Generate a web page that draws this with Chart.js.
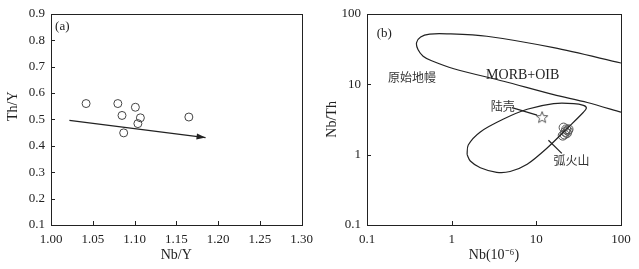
<!DOCTYPE html>
<html lang="zh-CN">
<head>
  <meta charset="UTF-8" />
  <title>Th/Y - Nb/Y ; Nb/Th - Nb</title>
  <style>
    body { margin: 0; padding: 0; background: #fff; }
    #wrap { position: relative; width: 639px; height: 269px; }
    canvas { position: absolute; top: 0; }
    #chartA { left: 0; }
    #chartB { left: 320px; }
  </style>
</head>
<body>
  <div id="wrap">
    <canvas id="chartA" width="320" height="269"></canvas>
    <canvas id="chartB" width="319" height="269"></canvas>
  </div>

  <script src="https://cdn.jsdelivr.net/npm/chart.js"></script>
  <script>
    // (a) Th/Y vs Nb/Y
    const nbY = [1.042, 1.080, 1.085, 1.101, 1.107, 1.104, 1.087, 1.165];
    const thY = [0.560, 0.560, 0.515, 0.546, 0.506, 0.484, 0.449, 0.509];
    const arrowX = [1.022, 1.185];
    const arrowY = [0.496, 0.431];
    const ticksA_x = [1.00, 1.05, 1.10, 1.15, 1.20, 1.25, 1.30];
    const ticksA_y = [0.1, 0.2, 0.3, 0.4, 0.5, 0.6, 0.7, 0.8, 0.9];

    // (b) Nb/Th vs Nb
    const nb = [20.5, 21.5, 22, 23, 23.5, 22.5, 21, 24];
    const nbTh = [1.86, 1.93, 2.10, 2.02, 2.19, 2.28, 2.42, 2.29];
    const crustNb = [11.7];
    const crustNbTh = [3.4];
    const morbX = [100, 16, 2.6, 0.88, 0.55, 0.43, 0.385, 0.40, 0.46, 0.58, 1.06, 4.1, 16, 40, 100];
    const morbY = [20, 33, 48, 52, 51.5, 47, 39, 31, 25, 21.5, 16.6, 11.0, 7.1, 5.5, 4.0];
    const arcX = [1.52, 1.57, 2.18, 4.1, 7.8, 16, 27.6, 36, 39, 36, 23, 13.4, 7.8, 4.9, 3.4, 2.18, 1.66, 1.52];
    const arcY = [1.0, 1.37, 2.1, 3.2, 4.4, 5.3, 5.3, 5.0, 4.6, 4.0, 2.34, 1.24, 0.73, 0.575, 0.56, 0.65, 0.81, 1.0];
    const crustLeaderX = [5.15, 10.2];
    const crustLeaderY = [4.64, 3.63];
    const arcLeaderX = [13.9, 20];
    const arcLeaderY = [1.6, 1.04];
    const ticksB = [0.1, 1, 10, 100];

    const serif = "'Liberation Serif', 'Times New Roman', serif";
    const cjk = "'Noto Sans CJK SC', sans-serif";
    const ink = '#222';

    Chart.defaults.font.family = serif;
    Chart.defaults.font.size = 13;
    Chart.defaults.color = ink;

    const pts = (xs, ys) => xs.map((x, i) => ({ x: x, y: ys[i] }));

    // star marker as an image
    function makeStar() {
      const c = document.createElement('canvas');
      c.width = 14; c.height = 14;
      const g = c.getContext('2d');
      g.strokeStyle = '#555';
      g.lineWidth = 1;
      g.beginPath();
      for (let i = 0; i < 10; i++) {
        const r = i % 2 === 0 ? 6 : 2.6;
        const a = -Math.PI / 2 + i * Math.PI / 5;
        const px = 7 + r * Math.cos(a), py = 7.5 + r * Math.sin(a);
        if (i === 0) g.moveTo(px, py); else g.lineTo(px, py);
      }
      g.closePath();
      g.stroke();
      return c;
    }

    // box around the plot + short inward ticks + labels
    const frame = {
      id: 'frame',
      afterDraw(chart, args, opts) {
        const { ctx, chartArea: a, scales } = chart;
        ctx.save();
        ctx.strokeStyle = ink;
        ctx.lineWidth = 1;
        ctx.strokeRect(Math.round(a.left) + 0.5, Math.round(a.top) + 0.5,
          Math.round(a.right - a.left), Math.round(a.bottom - a.top));
        ctx.beginPath();
        scales.x.ticks.forEach(t => {
          const px = Math.round(scales.x.getPixelForValue(t.value)) + 0.5;
          if (px - a.left < 2 || a.right - px < 2) return;
          ctx.moveTo(px, a.bottom);
          ctx.lineTo(px, a.bottom - 4);
        });
        scales.y.ticks.forEach(t => {
          const py = Math.round(scales.y.getPixelForValue(t.value)) + 0.5;
          if (py - a.top < 2 || a.bottom - py < 2) return;
          ctx.moveTo(a.left, py);
          ctx.lineTo(a.left + 4, py);
        });
        ctx.stroke();

        (opts.labels || []).forEach(l => {
          ctx.font = l.font;
          ctx.fillStyle = l.color || ink;
          ctx.textAlign = 'center';
          ctx.textBaseline = 'middle';
          ctx.fillText(l.text, scales.x.getPixelForValue(l.x), scales.y.getPixelForValue(l.y));
        });

        // y title placed a bit above the middle, as in the source figure
        if (opts.yTitle) {
          ctx.save();
          ctx.font = '14px ' + serif;
          ctx.fillStyle = ink;
          ctx.textAlign = 'center';
          ctx.textBaseline = 'middle';
          ctx.translate(13, scales.y.getPixelForValue(opts.yTitle.at));
          ctx.rotate(-Math.PI / 2);
          ctx.fillText(opts.yTitle.text, 0, 0);
          ctx.restore();
        }

        if (opts.arrow != null) {
          const d = chart.getDatasetMeta(opts.arrow).data;
          const p0 = d[0], p1 = d[d.length - 1];
          const ang = Math.atan2(p1.y - p0.y, p1.x - p0.x);
          ctx.fillStyle = ink;
          ctx.translate(p1.x, p1.y);
          ctx.rotate(ang);
          ctx.beginPath();
          ctx.moveTo(0, 0);
          ctx.lineTo(-9, -3);
          ctx.lineTo(-9, 3);
          ctx.closePath();
          ctx.fill();
        }
        ctx.restore();
      }
    };

    function fixTicks(list) {
      return scale => { scale.ticks = list.map(v => ({ value: v })); };
    }

    // ---------- chart (a) ----------
    new Chart(document.getElementById('chartA'), {
      type: 'scatter',
      data: {
        datasets: [
          {
            data: pts(nbY, thY),
            pointRadius: 4,
            pointBorderWidth: 1,
            borderColor: '#444',
            backgroundColor: 'rgba(255,255,255,0)'
          },
          {
            data: pts(arrowX, arrowY),
            showLine: true,
            pointRadius: 0,
            borderColor: ink,
            borderWidth: 1.2
          }
        ]
      },
      options: {
        responsive: false,
        animation: false,
        layout: { padding: { top: 11, right: 13, left: 0, bottom: 0 } },
        plugins: {
          legend: { display: false },
          tooltip: { enabled: false },
          frame: {
            arrow: 1,
            yTitle: { text: 'Th/Y', at: 0.55 },
            labels: [{ text: '(a)', x: 1.0135, y: 0.85, font: '13px ' + serif }]
          }
        },
        scales: {
          x: {
            type: 'linear', min: 1.0, max: 1.3,
            grid: { display: false, drawTicks: false },
            border: { display: false },
            afterBuildTicks: fixTicks(ticksA_x),
            afterFit: s => { s.height = 44; },
            ticks: { padding: 7, callback: v => Number(v).toFixed(2) },
            title: { display: true, text: 'Nb/Y', font: { size: 14 }, padding: { top: 0, bottom: 5 } }
          },
          y: {
            type: 'linear', min: 0.1, max: 0.9,
            grid: { display: false, drawTicks: false },
            border: { display: false },
            afterBuildTicks: fixTicks(ticksA_y),
            afterFit: s => { s.width = 51; },
            ticks: { padding: 6, callback: v => Number(v).toFixed(1) },
            title: { display: false }
          }
        }
      },
      plugins: [frame]
    });

    // ---------- chart (b) ----------
    const lineStyle = { showLine: true, pointRadius: 0, borderColor: ink, borderWidth: 1.2, tension: 0.3, fill: false };
    new Chart(document.getElementById('chartB'), {
      type: 'scatter',
      data: {
        datasets: [
          Object.assign({ data: pts(morbX, morbY) }, lineStyle),
          Object.assign({ data: pts(arcX, arcY) }, lineStyle),
          Object.assign({ data: pts(crustLeaderX, crustLeaderY) }, lineStyle, { tension: 0 }),
          Object.assign({ data: pts(arcLeaderX, arcLeaderY) }, lineStyle, { tension: 0 }),
          {
            data: pts(nb, nbTh),
            pointRadius: 4.5,
            pointBorderWidth: 1,
            borderColor: '#555',
            backgroundColor: 'rgba(255,255,255,0)'
          },
          {
            data: pts(crustNb, crustNbTh),
            pointStyle: makeStar(),
            pointRadius: 7
          }
        ]
      },
      options: {
        responsive: false,
        animation: false,
        layout: { padding: { top: 9, right: 18, left: 0, bottom: 0 } },
        plugins: {
          legend: { display: false },
          tooltip: { enabled: false },
          frame: {
            labels: [
              { text: '(b)', x: 0.16, y: 52, font: '13px ' + serif },
              { text: 'MORB+OIB', x: 6.9, y: 13.5, font: '14px ' + serif },
              { text: '原始地幔', x: 0.34, y: 12.5, font: '12px ' + cjk, color: '#333' },
              { text: '陆壳', x: 4.0, y: 4.9, font: '12px ' + cjk, color: '#333' },
              { text: '弧火山', x: 26, y: 0.82, font: '12px ' + cjk, color: '#333' }
            ]
          }
        },
        scales: {
          x: {
            type: 'logarithmic', min: 0.1, max: 100,
            grid: { display: false, drawTicks: false },
            border: { display: false },
            afterBuildTicks: fixTicks(ticksB),
            afterFit: s => { s.height = 44; },
            ticks: { padding: 7, callback: v => String(v) },
            title: { display: true, text: 'Nb(10⁻⁶)', font: { size: 14 }, padding: { top: 0, bottom: 5 } }
          },
          y: {
            type: 'logarithmic', min: 0.1, max: 100,
            grid: { display: false, drawTicks: false },
            border: { display: false },
            afterBuildTicks: fixTicks(ticksB),
            afterFit: s => { s.width = 47; },
            ticks: { padding: 6, callback: v => String(v) },
            title: { display: true, text: 'Nb/Th', font: { size: 14 }, padding: { top: 4, bottom: 0 } }
          }
        }
      },
      plugins: [frame]
    });
  </script>
</body>
</html>
